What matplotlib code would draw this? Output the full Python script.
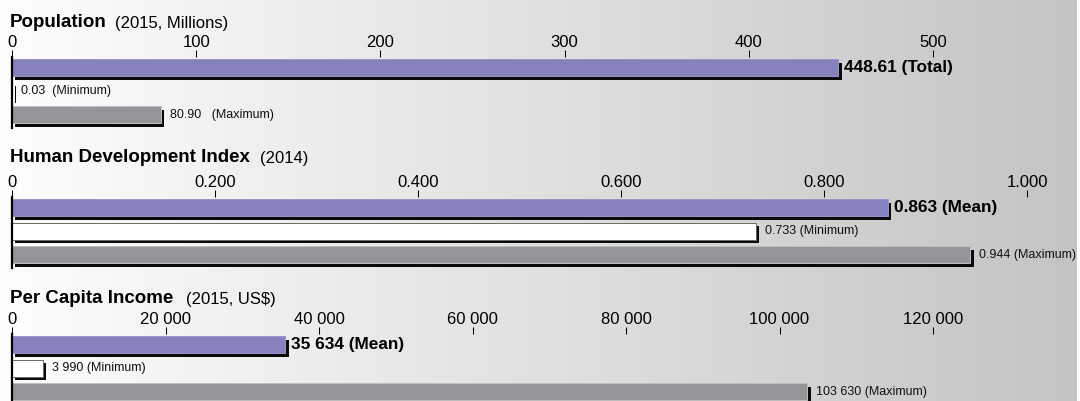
import numpy as np
import matplotlib
matplotlib.use('Agg')
import matplotlib.pyplot as plt
import matplotlib.patheffects as pe
from matplotlib.colors import LinearSegmentedColormap

plt.rcParams['font.family'] = ['Liberation Sans', 'DejaVu Sans']

# data
row_names = ['Mean', 'Minimum', 'Maximum']

pop_names = ['Total', 'Minimum', 'Maximum']
pop_values = [448.61, 0.03, 80.90]
pop_ticks = [0, 100, 200, 300, 400, 500]
pop_ticklabels = ['0', '100', '200', '300', '400', '500']

hdi_values = [0.863, 0.733, 0.944]
hdi_ticks = [0, 0.2, 0.4, 0.6, 0.8, 1.0]
hdi_ticklabels = ['0', '0.200', '0.400', '0.600', '0.800', '1.000']

income_values = [35634, 3990, 103630]
income_ticks = [0, 20000, 40000, 60000, 80000, 100000, 120000]
income_ticklabels = ['0', '20 000', '40 000', '60 000', '80 000', '100 000', '120 000']

W, H = 1080, 401
bar_colors = ['#8581bd', '#ffffff', '#939598']
edge_colors = ['#9995c8', '#6a6a6a', '#c0c0c0']

fig = plt.figure(figsize=(W / 100, H / 100), dpi=100, facecolor='white')

# background gradient
bg = fig.add_axes([0, 0, 1077 / W, 1], zorder=-5)
cmap = LinearSegmentedColormap.from_list('bg', ['#fdfdfd', '#c4c4c4'])
bg.imshow(np.linspace(0, 1, 256).reshape(1, -1), aspect='auto', cmap=cmap,
          extent=(0, 1, 0, 1))
bg.set_axis_off()

pitch = 23.6  # pixel distance between rows
x0 = 12       # pixel of the zero line


def panel(top_px, title_px, title, subtitle, sub_gap, values, labels,
          ticks, ticklabels, px_per_unit):
    height = 3.0 * pitch
    ax = fig.add_axes([x0 / W, 1 - (top_px + height) / H, (W - x0) / W, height / H])
    ax.set_facecolor('none')
    ax.set_xlim(0, (W - x0) / px_per_unit)
    ax.set_ylim(2.55, -0.45)

    shadow = [pe.SimplePatchShadow(offset=(2.5, -2.5), shadow_rgbFace='#0a0a0a', alpha=1.0),
              pe.Normal()]
    for i, v in enumerate(values):
        ax.barh(i, v, height=0.72, color=bar_colors[i], edgecolor=edge_colors[i],
                linewidth=0.7, path_effects=shadow, zorder=2)
        if i == 0:
            ax.annotate(labels[i], xy=(v, i), xytext=(6, 0.5), textcoords='offset pixels',
                        va='center', ha='left', fontsize=12.4, fontweight='bold', color='#000000')
        else:
            ax.annotate(labels[i], xy=(v, i), xytext=(9, 0), textcoords='offset pixels',
                        va='center', ha='left', fontsize=9, color='#111111')

    ax.xaxis.set_ticks_position('top')
    ax.set_xticks(ticks)
    ax.set_xticklabels(ticklabels)
    ax.tick_params(axis='x', direction='out', length=5, width=0.75, pad=0,
                   labelsize=12, colors='#000000')
    ax.set_yticks([])
    for s in ['top', 'right', 'bottom']:
        ax.spines[s].set_visible(False)
    ax.spines['left'].set_linewidth(1.6)
    ax.spines['left'].set_color('#000000')
    ax.spines['left'].set_zorder(3)

    # title plus a lighter subtitle right after it
    t = fig.text(10 / W, 1 - title_px / H, title, fontsize=13.5, fontweight='bold',
                 va='baseline', ha='left', color='#000000')
    ax.annotate(subtitle, xy=(1, 0), xycoords=t, xytext=(sub_gap, 0),
                textcoords='offset pixels', va='bottom', ha='left',
                fontsize=12, color='#000000')
    return ax


pop_labels = [f'{pop_values[0]:.2f} ({pop_names[0]})',
              f'{pop_values[1]:.2f}  ({pop_names[1]})',
              f'{pop_values[2]:.2f}   ({pop_names[2]})']
hdi_labels = [f'{v:.3f} ({n})' for v, n in zip(hdi_values, row_names)]
income_labels = [f'{v:,.0f} ({n})'.replace(',', ' ') for v, n in zip(income_values, row_names)]

panel(57, 27.3, 'Population', '(2015, Millions)', 8, pop_values, pop_labels,
      pop_ticks, pop_ticklabels, (933 - 12) / 500)
panel(197, 161.7, 'Human Development Index', '(2014)', 10, hdi_values, hdi_labels,
      hdi_ticks, hdi_ticklabels, (1027 - 12) / 1.0)
panel(334, 303.3, 'Per Capita Income', '(2015, US$)', 13, income_values, income_labels,
      income_ticks, income_ticklabels, (933 - 12) / 120000)

plt.savefig('out.png', dpi=100)
